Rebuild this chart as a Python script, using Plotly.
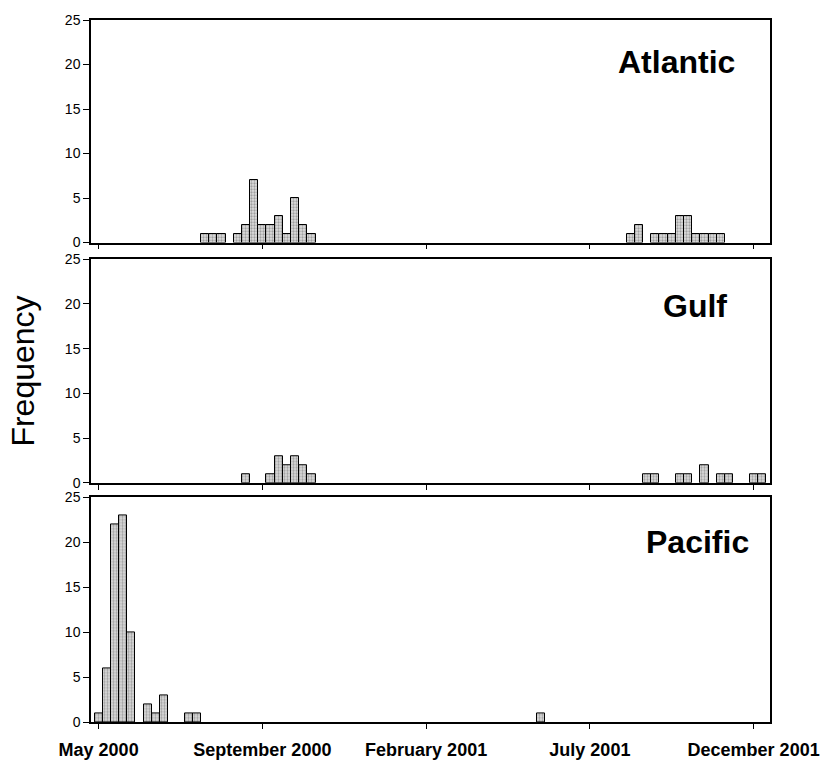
import plotly.graph_objects as go

# Week index (0 = start of May 2000), weekly bins
atlantic_weeks = [13, 14, 15, 17, 18, 19, 20, 21, 22, 23, 24, 25, 26,
                  65, 66, 68, 69, 70, 71, 72, 73, 74, 75, 76]
atlantic_counts = [1, 1, 1, 1, 2, 7, 2, 2, 3, 1, 5, 2, 1,
                   1, 2, 1, 1, 1, 3, 3, 1, 1, 1, 1]

gulf_weeks = [18, 21, 22, 23, 24, 25, 26, 67, 68, 71, 72, 74, 76, 77, 80, 81]
gulf_counts = [1, 1, 3, 2, 3, 2, 1, 1, 1, 1, 1, 2, 1, 1, 1, 1]

pacific_weeks = [0, 1, 2, 3, 4, 6, 7, 8, 11, 12, 54]
pacific_counts = [1, 6, 22, 23, 10, 2, 1, 3, 1, 1, 1]

tick_weeks = [0, 20, 40, 60, 80]
tick_labels = ["May 2000", "September 2000", "February 2001", "July 2001", "December 2001"]

panel_names = ["Atlantic", "Gulf", "Pacific"]
y_ticks = [0, 5, 10, 15, 20, 25]

FONT = "Arial, Liberation Sans, sans-serif"
bar_marker = dict(
    color="#d0d0d0",
    line=dict(color="black", width=1),
    pattern=dict(shape=".", fgcolor="#606060", bgcolor="#dedede", size=3, solidity=0.45),
)

fig = go.Figure()
series = [(atlantic_weeks, atlantic_counts), (gulf_weeks, gulf_counts), (pacific_weeks, pacific_counts)]
axis_ids = ["", "2", "3"]
for (wk, ct), aid in zip(series, axis_ids):
    fig.add_trace(go.Bar(x=wk, y=ct, width=1, marker=bar_marker, showlegend=False,
                         xaxis="x" + aid, yaxis="y" + aid))

domains = [[0.683, 1.0], [0.3408, 0.6592], [0.0, 0.3199]]
xrange = [-0.93, 82.0]
layout = dict(
    width=832, height=772,
    margin=dict(l=91, r=56, t=14, b=39),
    plot_bgcolor="white", paper_bgcolor="white",
    bargap=0,
    font=dict(family=FONT, color="black"),
)
for i, aid in enumerate(axis_ids):
    xa = dict(range=xrange, domain=[0, 1], anchor="y" + aid,
              showline=True, linecolor="black", linewidth=1.5, mirror=True,
              ticks="outside", ticklen=5, tickcolor="black",
              tickvals=tick_weeks, showgrid=False, zeroline=False)
    if i == 2:
        xa.update(ticktext=["<b>%s</b>" % t for t in tick_labels], showticklabels=True,
                  tickfont=dict(family=FONT, size=18, color="black"),
                  ticklabelstandoff=6)
    else:
        xa.update(showticklabels=False)
    ya = dict(range=[0, 25], domain=domains[i], anchor="x" + aid,
              showline=True, linecolor="black", linewidth=1.5, mirror=True,
              ticks="outside", ticklen=6, tickcolor="black",
              tickvals=y_ticks, tickfont=dict(family=FONT, size=14, color="black"),
              showgrid=False, zeroline=False)
    layout["xaxis" + aid] = xa
    layout["yaxis" + aid] = ya
fig.update_layout(**layout)

label_pos = [(0.952, 0.940), (0.940, 0.5925), (0.972, 0.257)]
for name, (px, py) in zip(panel_names, label_pos):
    fig.add_annotation(text="<b>%s</b>" % name, x=px, y=py, xref="paper", yref="paper",
                       xanchor="right", yanchor="middle", showarrow=False,
                       font=dict(family=FONT, size=32, color="black"))

fig.add_annotation(text="Frequency", x=-0.1007, y=0.5, xref="paper", yref="paper",
                   textangle=-90, xanchor="center", yanchor="middle", showarrow=False,
                   font=dict(family=FONT, size=32, color="black"))

fig.write_html("out.html")
